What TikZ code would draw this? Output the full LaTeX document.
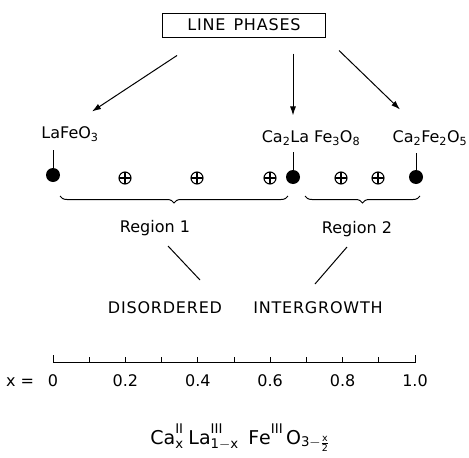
\documentclass[tikz,border=0pt]{standalone}
\usepackage{fontspec}
\setmainfont{DejaVu Sans}
\usetikzlibrary{arrows.meta,positioning,calc,decorations.pathreplacing}
\tikzset{
  lbl/.style={font=\fontsize{16}{18}\selectfont, inner sep=1pt},
  caps/.style={font=\fontsize{16}{18}\selectfont\addfontfeatures{LetterSpace=5}, inner sep=1pt},
  phase/.style={circle, fill=black, minimum size=14pt, inner sep=0pt},
  mixed/.style={circle, draw, line width=1.1pt, minimum size=12pt, inner sep=0pt,
    path picture={\draw[line width=1.1pt] (path picture bounding box.north) -- (path picture bounding box.south)
      (path picture bounding box.west) -- (path picture bounding box.east);}},
  arr/.style={-{Latex[length=9pt,width=6pt]}, line width=1pt},
  brc/.style={decorate, decoration={brace, mirror, amplitude=7pt}, line width=1pt},
  ln/.style={line width=1pt}}

\begin{document}
\begin{tikzpicture}[x=1pt, y=-1pt]
  \useasboundingbox (0,0) rectangle (469,458);
  \node[caps, draw, line width=1pt, minimum width=163pt, minimum height=24pt] (lp) at (244,25) {LINE\enspace PHASES};
  % end members and intermediate phase
  \node[lbl] (lfo) at (70,134) {LaFeO\textsubscript{3}};
  \node[lbl] (clf) at (311,138) {Ca\textsubscript{2}La Fe\textsubscript{3}O\textsubscript{8}};
  \node[lbl] (cf) at (430,138) {Ca\textsubscript{2}Fe\textsubscript{2}O\textsubscript{5}};
  \node[phase] (d0) at (53,175) {};
  \node[phase] (d1) at (293,177) {};
  \node[phase] (d2) at (416,177) {};
  \foreach \px/\nm in {125/m1, 197/m2, 270/m3, 341/m4, 378/m5}
    \node[mixed] (\nm) at (\px,178) {};
  % arrows from the box
  \coordinate (a1) at ($(lp.south)+(-67,18)$);
  \coordinate (a2) at ($(lp.south)+(49,16)$);
  \coordinate (a3) at ($(lp.south)+(95,13)$);
  \coordinate (t1) at ($(lfo.north)+(22,-14)$);
  \coordinate (t2) at ($(clf.north)+(-18,-14)$);
  \coordinate (t3) at ($(cf.north)+(-30,-20)$);
  \draw[arr] (a1) -- (t1);
  \draw[arr] (a2) -- (t2);
  \draw[arr] (a3) -- (t3);
  \draw[ln] (d0) -- (53,150);
  \draw[ln] (d1) -- (293,152);
  \draw[ln] (d2) -- (416,153);
  % regions
  \draw[brc] (60,196) -- (288,196);
  \draw[brc] (305,196) -- (420,196);
  \node[lbl] (r1) at (155,228) {Region 1};
  \node[lbl] (r2) at (357,229) {Region 2};
  \node[caps] (dis) at (165,308) {DISORDERED};
  \node[caps] (int) at (318,308) {INTERGROWTH};
  \draw[ln] (168,246) -- (200,280);
  \draw[ln] (347,247) -- (315,284);
  % composition axis
  \draw[ln] (53,355) -- (53,362) -- (415,362) -- (415,355);
  \foreach \i in {1,...,9}
    \draw[ln] ({53+36.2*\i},362) -- ({53+36.2*\i},357);
  \node[lbl] (xeq) at (20,382) {x =};
  \foreach \v/\t in {0/0, 2/0.2, 4/0.4, 6/0.6, 8/0.8, 10/1.0}
    \node[lbl] (x\v) at ({53+36.2*\v},381) {\t};
  \node[lbl, font=\fontsize{19}{22}\selectfont] (form) at (240,438)
    {$\mathrm{Ca}^{\mathrm{II}}_{\mathrm{x}}\;\mathrm{La}^{\mathrm{III}}_{\mathrm{1-x}}\;\;\mathrm{Fe}^{\mathrm{III}}\,\mathrm{O}_{\mathrm{3}-\frac{\mathrm{x}}{\mathrm{2}}}$};
\end{tikzpicture}
\end{document}
